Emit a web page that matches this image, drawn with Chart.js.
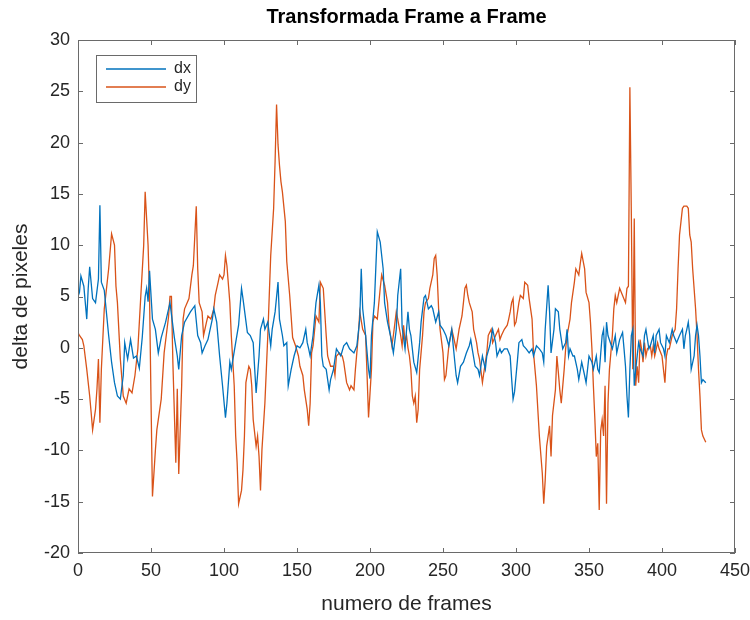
<!DOCTYPE html>
<html>
<head>
<meta charset="utf-8">
<script src="https://cdn.jsdelivr.net/npm/chart.js@4.4.1/dist/chart.umd.min.js"></script>
<style>
	html, body { margin: 0; padding: 0; background: #fff; }
</style>
</head>
<body>
<canvas id="myChart" width="750" height="620"></canvas>
<script>
// values (frame number -> pixel delta)
const dxFrames = [0,1,2,4,6,7,8,10,12,14,15,16,18,21,23,25,27,29,31,32,34,36,38,40,42,44,46,47,48,49,51,53,55,57,60,63,66,68,69,71,73,77,80,82,84,85,87,89,92,93,95,97,99,101,102,104,105,108,110,112,113,116,118,120,121,122,124,125,127,128,130,132,133,135,137,138,140,141,143,144,146,148,150,152,154,156,157,158,159,161,163,165,166,167,168,170,172,173,175,177,180,182,184,186,189,191,193,194,195,197,199,200,201,203,205,207,209,210,212,214,216,218,219,221,222,224,226,227,228,230,232,234,235,237,238,240,242,243,245,247,248,250,252,254,256,257,259,260,262,264,266,268,269,270,272,274,275,277,279,280,282,284,286,287,289,290,292,294,296,297,298,299,301,302,304,305,307,309,311,312,314,316,318,319,320,322,323,324,326,327,329,330,332,334,335,336,337,339,340,342,343,345,347,348,350,352,353,355,356,357,359,360,361,362,363,366,368,369,371,373,374,375,376,377,378,379,380,381,382,383,384,385,387,388,389,391,392,394,395,396,398,399,401,402,403,405,407,408,410,412,414,415,416,417,418,419,420,422,423,424,425,426,427,428,430];
const dxValues = [5.0,5.4,7.0,6.0,2.8,5.8,7.9,4.8,4.4,6.7,13.9,6.4,5.6,1.2,-1.4,-3.4,-4.7,-5.0,-2.7,0.5,-1.1,0.8,-1.0,-0.8,-2.0,1.0,5.0,5.8,4.5,7.5,2.8,1.8,-0.5,1.0,2.5,4.4,1.0,-0.8,-2.1,1.2,2.5,3.5,4.1,1.2,0.5,-0.5,0.2,0.8,2.8,3.8,2.5,-0.8,-3.7,-6.8,-5.4,-1.4,-2.1,0.5,2.2,5.8,4.8,1.5,1.2,0.5,-2.0,-4.4,-0.8,1.8,2.8,1.8,2.5,0.2,1.8,3.5,6.4,2.8,1.2,0.2,0.5,-3.7,-2.1,-0.8,0.2,0.0,0.5,1.8,0.5,-0.1,-0.8,1.2,4.4,6.1,4.4,-0.8,-1.8,-2.1,-4.1,-3.1,-2.1,-0.1,-0.8,0.2,0.5,-0.1,-0.5,0.2,2.8,7.7,3.8,1.2,-2.1,-3.0,1.2,4.4,11.3,10.3,7.7,4.4,2.5,1.2,-0.5,1.8,5.1,7.7,2.0,-0.1,3.5,1.8,1.2,-1.4,-2.4,0.5,2.5,4.9,5.1,3.8,4.1,3.8,2.5,3.5,2.2,1.8,1.2,0.2,1.8,0.2,-2.7,-3.4,-1.8,-1.4,-0.5,0.2,0.8,-0.1,-1.8,-2.1,-2.7,-0.8,-2.1,-0.8,0.2,1.8,0.5,-0.8,-0.1,-0.5,-0.1,-0.1,-0.8,-3.0,-5.0,-4.3,-1.2,0.5,0.8,0.2,-0.1,-0.5,-0.1,-0.8,0.2,-0.1,-0.5,-1.4,1.8,6.1,3.5,-0.5,1.8,3.8,3.5,1.8,-0.1,0.5,1.8,-0.8,-0.1,-0.8,-0.8,-2.1,-3.1,-1.4,-2.7,-3.4,-0.8,-1.4,-2.1,-0.8,-2.1,-2.4,1.2,1.8,-1.4,2.5,1.2,-0.1,1.2,-0.5,0.8,1.5,-0.1,-1.8,-4.7,-6.8,-2.1,1.2,1.8,-3.7,-2.1,-0.8,0.5,-0.1,-0.8,1.2,1.8,-0.1,0.2,1.2,-0.5,1.2,1.8,0.5,-0.1,-0.8,1.2,0.5,1.8,1.2,0.5,1.2,1.8,-0.1,1.2,1.8,2.5,1.2,-2.1,-0.8,1.2,2.2,1.2,-0.8,-3.4,-3.1,-3.4];

const dyFrames = [0,1,3,4,6,8,9,10,12,13,14,15,16,18,21,23,25,26,27,29,31,33,35,37,39,41,43,44,45,46,48,49,50,51,53,54,57,59,62,63,64,65,67,68,69,71,72,73,76,78,79,81,82,83,85,86,88,89,91,93,94,96,97,99,100,101,102,104,105,107,108,109,110,112,113,114,115,117,118,119,120,122,123,124,125,126,128,130,131,132,134,135,136,137,138,139,140,142,143,145,147,149,151,152,154,155,157,158,159,160,161,163,165,166,168,170,171,173,175,176,177,179,181,182,184,186,187,189,190,192,193,195,197,198,199,201,202,203,205,207,208,210,212,213,215,216,218,219,221,222,223,224,225,226,227,228,229,230,231,232,233,234,236,237,238,240,241,243,244,245,246,247,248,250,251,252,254,256,257,259,261,263,264,265,266,267,268,270,271,273,274,275,277,278,280,281,283,284,286,288,289,290,292,294,295,296,297,298,299,300,302,303,305,306,308,309,311,312,314,316,318,319,320,321,322,323,324,325,327,328,329,330,331,333,334,335,337,338,340,341,343,344,345,347,348,350,351,352,353,354,355,356,357,358,359,360,361,362,363,364,366,367,368,369,371,373,375,376,377,378,379,380,381,382,383,384,385,386,387,388,389,390,392,393,394,395,397,398,400,401,402,403,404,405,407,409,410,411,412,413,414,415,417,418,419,420,421,423,424,425,426,427,428,430];
const dyValues = [1.5,1.2,0.8,0.2,-2.1,-4.7,-6.3,-8.0,-6.0,-4.0,-1.1,-7.3,-2.1,3.8,7.7,11.1,10.0,6.0,4.4,-1.1,-4.7,-5.4,-4.0,-4.4,-2.7,-0.1,5.0,7.5,10.0,15.2,10.0,5.0,-5.0,-14.5,-10.0,-8.0,-5.0,-0.5,3.0,5.0,5.0,-1.5,-11.2,-4.0,-12.3,-3.7,2.8,3.8,4.8,7.1,8.0,13.8,7.7,4.4,3.5,1.2,2.5,3.1,2.8,3.8,5.1,6.4,7.1,6.7,7.1,9.0,8.0,4.4,1.2,-3.7,-8.6,-11.2,-15.2,-13.9,-11.9,-8.6,-3.4,-1.8,-2.1,-3.7,-7.0,-9.6,-8.6,-10.6,-13.9,-9.9,-5.4,1.2,5.1,9.0,13.6,18.2,23.7,19.8,17.8,16.2,15.2,12.3,8.4,5.1,1.0,0.2,-0.8,-1.8,-2.7,-4.1,-6.0,-7.6,-5.4,-0.5,0.2,3.1,2.5,6.4,5.8,1.2,-0.8,-1.8,-1.8,-2.7,-0.8,-0.5,-0.8,-1.4,-3.4,-4.1,-3.7,-4.1,-2.1,1.2,3.5,1.8,1.2,-2.7,-6.8,-2.1,2.5,3.1,2.8,5.8,7.1,6.1,4.4,2.2,0.2,1.2,3.5,2.8,1.2,0.2,2.2,0.5,1.2,0.0,-0.8,-2.1,-4.7,-5.4,-4.7,-7.3,-6.0,-2.1,1.2,3.5,4.4,4.8,5.8,7.1,8.7,9.0,7.1,3.8,1.8,-0.5,-3.1,-2.7,0.2,1.8,1.2,-0.1,1.8,3.1,4.4,5.8,6.1,5.1,4.4,3.5,1.8,0.5,-0.5,-1.1,-3.4,-2.4,-0.5,1.2,1.8,0.5,1.2,1.8,0.8,1.2,1.8,2.2,2.8,3.5,4.4,4.8,2.2,2.5,4.4,5.1,4.8,6.4,6.1,4.8,2.8,-0.5,-3.7,-8.6,-12.2,-15.2,-12.9,-9.6,-8.6,-7.6,-10.6,-6.6,-4.1,-0.8,-2.4,-4.1,-5.4,-2.1,-0.1,1.2,2.8,4.4,6.4,7.7,7.1,8.2,9.2,7.7,5.4,4.4,2.5,-0.1,-3.7,-6.9,-10.6,-9.3,-15.8,-8.1,-7.0,-8.6,-3.7,-15.2,-5.4,-2.1,1.2,3.8,5.1,4.4,5.8,5.1,4.4,5.8,6.0,25.4,13.0,-2.1,12.6,-3.7,-1.8,-3.4,0.8,-0.1,-1.4,0.5,-0.8,-0.1,0.2,-0.8,0.2,-0.8,0.5,-0.1,-0.8,-2.1,-3.4,-0.8,-0.1,-0.1,1.2,1.8,3.8,7.7,11.0,12.3,13.6,13.8,13.8,13.6,11.0,10.3,7.7,3.8,1.2,-2.1,-4.7,-8.0,-8.6,-9.2];

const xTicks = [0, 50, 100, 150, 200, 250, 300, 350, 400, 450];
const yTicks = [-20, -15, -10, -5, 0, 5, 10, 15, 20, 25, 30];

const toPoints = (frames, values) => frames.map((f, i) => ({ x: f, y: values[i] }));

const fontFamily = '"Liberation Sans", Arial, Helvetica, sans-serif';
Chart.defaults.font.family = fontFamily;
Chart.defaults.color = "#262626";
const boxColor = "#6a6a6a";

// MATLAB style box with inward ticks on all four sides
const axesBox = {
	id: "axesBox",
	afterDatasetsDraw(chart) {
		const { ctx, chartArea: a, scales } = chart;
		const len = 5;
		ctx.save();
		ctx.strokeStyle = boxColor;
		ctx.lineWidth = 1;
		ctx.beginPath();
		xTicks.forEach((v) => {
			const px = Math.round(scales.x.getPixelForValue(v)) + 0.5;
			ctx.moveTo(px, a.bottom);
			ctx.lineTo(px, a.bottom - len);
			ctx.moveTo(px, a.top);
			ctx.lineTo(px, a.top + len);
		});
		yTicks.forEach((v) => {
			const py = Math.round(scales.y.getPixelForValue(v)) + 0.5;
			ctx.moveTo(a.left, py);
			ctx.lineTo(a.left + len, py);
			ctx.moveTo(a.right, py);
			ctx.lineTo(a.right - len, py);
		});
		ctx.stroke();
		ctx.strokeRect(Math.round(a.left) + 0.5, Math.round(a.top) + 0.5,
			Math.round(a.right - a.left) - 1, Math.round(a.bottom - a.top) - 1);
		ctx.restore();
	},
	afterDraw(chart) {
		// legend box, top left inside the axes
		const { ctx, chartArea: a } = chart;
		const bx = a.left + 18, by = a.top + 15, bw = 100, bh = 47;
		ctx.save();
		ctx.fillStyle = "#fff";
		ctx.fillRect(bx, by, bw, bh);
		ctx.strokeStyle = boxColor;
		ctx.lineWidth = 1;
		ctx.strokeRect(bx + 0.5, by + 0.5, bw, bh);
		ctx.font = "16px " + fontFamily;
		ctx.textBaseline = "middle";
		chart.data.datasets.forEach((ds, i) => {
			const ly = by + 14 + i * 18;
			ctx.strokeStyle = ds.borderColor;
			ctx.lineWidth = 1.3;
			ctx.beginPath();
			ctx.moveTo(bx + 10, ly);
			ctx.lineTo(bx + 70, ly);
			ctx.stroke();
			ctx.fillStyle = "#262626";
			ctx.fillText(ds.label, bx + 78, ly);
		});
		ctx.restore();
	},
};

const myChart = new Chart(document.getElementById("myChart"), {
	type: "line",
	data: {
		datasets: [
			{
				label: "dx",
				data: toPoints(dxFrames, dxValues),
				borderColor: "#0072BD",
				borderWidth: 1.3,
				pointRadius: 0,
				tension: 0,
				fill: false,
			},
			{
				label: "dy",
				data: toPoints(dyFrames, dyValues),
				borderColor: "#D95319",
				borderWidth: 1.3,
				pointRadius: 0,
				tension: 0,
				fill: false,
			},
		],
	},
	options: {
		responsive: false,
		animation: false,
		layout: { padding: { left: 0, right: 15, top: 0, bottom: 0 } },
		plugins: {
			legend: { display: false },
			tooltip: { enabled: false },
			title: {
				display: true,
				fullSize: false,
				text: "Transformada Frame a Frame",
				font: { size: 20, weight: "bold" },
				color: "#000",
				padding: { top: 5, bottom: 11 },
			},
		},
		scales: {
			x: {
				type: "linear",
				min: 0,
				max: 450,
				afterBuildTicks: (s) => { s.ticks = xTicks.map((v) => ({ value: v })); },
				afterFit: (s) => { s.height = 67; s.paddingLeft = 0; s.paddingRight = 0; },
				ticks: { font: { size: 18 }, padding: 7, maxRotation: 0, autoSkip: false },
				grid: { display: false, drawTicks: false },
				border: { display: false },
				title: {
					display: true,
					text: "numero de frames",
					font: { size: 21 },
					padding: { top: 0, bottom: 3 },
				},
			},
			y: {
				type: "linear",
				min: -20,
				max: 30,
				afterBuildTicks: (s) => { s.ticks = yTicks.map((v) => ({ value: v })); },
				afterFit: (s) => { s.width = 78; s.paddingTop = 0; s.paddingBottom = 0; },
				ticks: { font: { size: 18 }, padding: 8, autoSkip: false },
				grid: { display: false, drawTicks: false },
				border: { display: false },
				title: {
					display: true,
					text: "delta de pixeles",
					font: { size: 21 },
					padding: { top: 9, bottom: 0 },
				},
			},
		},
	},
	plugins: [axesBox],
});
</script>
</body>
</html>
